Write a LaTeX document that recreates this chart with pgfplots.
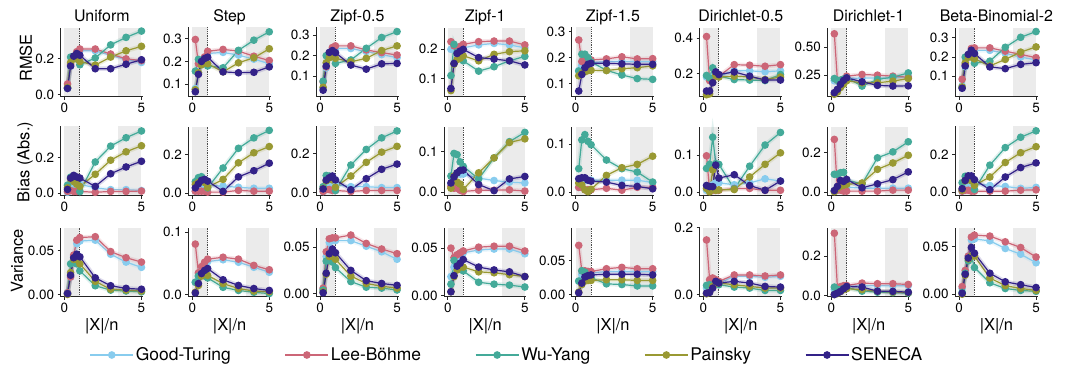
\documentclass[border=0pt]{standalone}
\usepackage{fontspec}
\setmainfont{TeX Gyre Heros}
\usepackage{pgfplots}
\usepackage{pgfplotstable}
\pgfplotsset{compat=1.18}

\definecolor{gtc}{HTML}{88CCEE}
\definecolor{lbc}{HTML}{CC6677}
\definecolor{wyc}{HTML}{44AA99}
\definecolor{pac}{HTML}{999933}
\definecolor{sec}{HTML}{332288}

% ---------- RMSE ----------
\pgfplotstableread{
x    gt     lb     wy     pa     se
0.2  0.040  0.060  0.036  0.040  0.035
0.4  0.160  0.170  0.210  0.180  0.160
0.6  0.210  0.210  0.210  0.200  0.215
0.8  0.235  0.240  0.200  0.200  0.230
1.0  0.245  0.255  0.167  0.185  0.220
2    0.245  0.255  0.205  0.165  0.145
3    0.220  0.227  0.278  0.210  0.145
4    0.195  0.200  0.320  0.245  0.170
5    0.180  0.190  0.355  0.270  0.195
}\tRa
\pgfplotstableread{
x    gt     lb     wy     pa     se
0.2  0.080  0.297  0.157  0.075  0.066
0.4  0.150  0.190  0.209  0.150  0.143
0.6  0.190  0.200  0.205  0.185  0.200
0.8  0.215  0.220  0.200  0.195  0.213
1.0  0.235  0.245  0.180  0.190  0.219
2    0.240  0.253  0.172  0.154  0.154
3    0.228  0.246  0.249  0.194  0.150
4    0.210  0.223  0.294  0.216  0.152
5    0.190  0.204  0.331  0.256  0.176
}\tRb
\pgfplotstableread{
x    gt     lb     wy     pa     se
0.2  0.040  0.072  0.075  0.045  0.031
0.4  0.140  0.145  0.200  0.165  0.149
0.6  0.200  0.210  0.210  0.190  0.216
0.8  0.225  0.240  0.220  0.200  0.225
1.0  0.235  0.248  0.162  0.187  0.215
2    0.235  0.248  0.179  0.170  0.154
3    0.220  0.228  0.236  0.187  0.134
4    0.205  0.215  0.289  0.225  0.160
5    0.190  0.203  0.318  0.248  0.162
}\tRc
\pgfplotstableread{
x    gt     lb     wy     pa     se
0.2  0.200  0.226  0.111  0.060  0.067
0.4  0.200  0.212  0.217  0.150  0.152
0.6  0.200  0.205  0.190  0.165  0.186
0.8  0.203  0.210  0.170  0.170  0.194
1.0  0.205  0.217  0.161  0.178  0.200
2    0.215  0.226  0.126  0.161  0.172
3    0.220  0.228  0.141  0.183  0.167
4    0.215  0.228  0.161  0.192  0.161
5    0.205  0.215  0.176  0.195  0.147
}\tRd
\pgfplotstableread{
x    gt     lb     wy     pa     se
0.2  0.150  0.268  0.148  0.130  0.071
0.4  0.170  0.185  0.213  0.140  0.135
0.6  0.175  0.190  0.213  0.145  0.161
0.8  0.178  0.190  0.200  0.150  0.174
1.0  0.180  0.191  0.183  0.151  0.178
2    0.185  0.195  0.151  0.150  0.178
3    0.185  0.203  0.133  0.157  0.176
4    0.185  0.195  0.119  0.161  0.174
5    0.185  0.196  0.116  0.168  0.174
}\tRe
\pgfplotstableread{
x    gt     lb     wy     pa     se
0.2  0.180  0.409  0.189  0.080  0.101
0.4  0.170  0.160  0.175  0.085  0.101
0.6  0.180  0.170  0.232  0.150  0.148
0.8  0.185  0.190  0.200  0.190  0.209
1.0  0.185  0.185  0.185  0.180  0.194
2    0.215  0.250  0.166  0.185  0.209
3    0.215  0.247  0.163  0.180  0.185
4    0.210  0.241  0.160  0.166  0.163
5    0.215  0.250  0.194  0.180  0.163
}\tRf
\pgfplotstableread{
x    gt     lb     wy     pa     se
0.2  0.200  0.618  0.220  0.080  0.094
0.4  0.195  0.203  0.205  0.100  0.124
0.6  0.200  0.205  0.205  0.140  0.168
0.8  0.210  0.215  0.215  0.170  0.203
1.0  0.220  0.241  0.226  0.200  0.226
2    0.225  0.256  0.153  0.182  0.191
3    0.225  0.250  0.212  0.182  0.159
4    0.225  0.241  0.232  0.197  0.153
5    0.235  0.232  0.270  0.220  0.155
}\tRg
\pgfplotstableread{
x    gt     lb     wy     pa     se
0.2  0.050  0.085  0.040  0.045  0.038
0.4  0.150  0.160  0.200  0.170  0.154
0.6  0.200  0.210  0.210  0.200  0.214
0.8  0.230  0.245  0.220  0.200  0.236
1.0  0.235  0.248  0.168  0.191  0.219
2    0.235  0.248  0.179  0.154  0.149
3    0.220  0.231  0.251  0.188  0.140
4    0.200  0.214  0.303  0.226  0.162
5    0.185  0.197  0.333  0.253  0.171
}\tRh

% ---------- Bias (absolute) ----------
\pgfplotstableread{
x    gt     lb     wy     pa     se
0.2  0.005  0.010  0.045  0.030  0.021
0.4  0.035  0.015  0.090  0.081  0.085
0.6  0.045  0.010  0.075  0.065  0.100
0.8  0.050  0.010  0.060  0.050  0.091
1.0  0.050  0.010  0.009  0.038  0.085
2    0.030  0.005  0.175  0.106  0.038
3    0.020  0.010  0.264  0.185  0.109
4    0.020  0.010  0.311  0.232  0.147
5    0.015  0.012  0.349  0.266  0.179
}\tBa
\pgfplotstableread{
x    gt     lb     wy     pa     se
0.2  0.010  0.010  0.059  0.045  0.027
0.4  0.030  0.010  0.080  0.055  0.048
0.6  0.040  0.010  0.085  0.065  0.066
0.8  0.045  0.010  0.070  0.055  0.071
1.0  0.040  0.005  0.027  0.030  0.062
2    0.036  0.005  0.130  0.071  0.009
3    0.030  0.014  0.232  0.157  0.084
4    0.025  0.010  0.286  0.209  0.116
5    0.025  0.010  0.325  0.241  0.155
}\tBb
\pgfplotstableread{
x    gt     lb     wy     pa     se
0.2  0.005  0.005  0.030  0.020  0.018
0.4  0.025  0.015  0.088  0.060  0.064
0.6  0.035  0.015  0.085  0.070  0.076
0.8  0.040  0.010  0.075  0.065  0.085
1.0  0.040  0.010  0.010  0.027  0.065
2    0.030  0.005  0.142  0.085  0.014
3    0.030  0.010  0.223  0.156  0.071
4    0.025  0.010  0.283  0.209  0.120
5    0.025  0.010  0.319  0.239  0.147
}\tBc
\pgfplotstableread{
x    gt     lb     wy     pa     se
0.2  0.020  0.015  0.040  0.010  0.023
0.4  0.040  0.010  0.096  0.040  0.038
0.6  0.045  0.010  0.093  0.025  0.048
0.8  0.045  0.005  0.075  0.020  0.054
1.0  0.045  0.002  0.064  0.007  0.055
2    0.035  0.005  0.033  0.048  0.019
3    0.029  0.005  0.085  0.085  0.004
4    0.025  0.006  0.125  0.123  0.033
5    0.023  0.003  0.148  0.132  0.039
}\tBd
\pgfplotstableread{
x    gt     lb     wy     pa     se
0.2  0.010  0.010  0.049  0.019  0.028
0.4  0.020  0.010  0.109  0.015  0.030
0.6  0.025  0.005  0.120  0.005  0.030
0.8  0.025  0.005  0.106  0.001  0.025
1.0  0.025  0.005  0.099  0.006  0.023
2    0.025  0.008  0.067  0.035  0.021
3    0.025  0.004  0.049  0.051  0.014
4    0.025  0.010  0.042  0.058  0.012
5    0.020  0.010  0.021  0.075  0.007
}\tBe
\pgfplotstableread{
x    gt     lb     wy     pa     se
0.2  0.005  0.098  0.064  0.010  0.018
0.4  0.010  0.005  0.075  0.001  0.015
0.6  0.020  0.005  0.148  0.060  0.015
0.8  0.025  0.005  0.077  0.005  0.073
1.0  0.025  0.005  0.075  0.006  0.038
2    0.020  0.010  0.009  0.007  0.047
3    0.025  0.010  0.070  0.041  0.018
4    0.036  0.005  0.127  0.075  0.005
5    0.030  0.005  0.161  0.106  0.030
}\tBf
\pgfplotstableread{
x    gt     lb     wy     pa     se
0.2  0.005  0.266  0.090  0.002  0.008
0.4  0.010  0.010  0.090  0.020  0.029
0.6  0.020  0.010  0.098  0.030  0.059
0.8  0.025  0.005  0.100  0.035  0.054
1.0  0.025  0.005  0.060  0.039  0.064
2    0.020  0.005  0.042  0.046  0.022
3    0.020  0.005  0.173  0.115  0.042
4    0.020  0.010  0.203  0.147  0.063
5    0.020  0.010  0.254  0.186  0.102
}\tBg
\pgfplotstableread{
x    gt     lb     wy     pa     se
0.2  0.005  0.005  0.050  0.010  0.018
0.4  0.030  0.010  0.084  0.060  0.062
0.6  0.040  0.010  0.085  0.070  0.086
0.8  0.045  0.005  0.070  0.060  0.086
1.0  0.045  0.005  0.014  0.036  0.066
2    0.035  0.005  0.143  0.080  0.013
3    0.030  0.005  0.236  0.157  0.080
4    0.020  0.010  0.291  0.209  0.130
5    0.025  0.012  0.325  0.241  0.155
}\tBh

% ---------- Variance ----------
\pgfplotstableread{
x    gt     lb     wy     pa     se
0.2  0.002  0.002  0.001  0.000  0.001
0.4  0.020  0.020  0.035  0.025  0.022
0.6  0.043  0.045  0.038  0.040  0.042
0.8  0.058  0.062  0.035  0.040  0.046
1.0  0.061  0.065  0.027  0.035  0.043
2    0.062  0.066  0.010  0.015  0.019
3    0.046  0.049  0.005  0.006  0.010
4    0.037  0.042  0.004  0.005  0.007
5    0.031  0.037  0.003  0.004  0.006
}\tVa
\pgfplotstableread{
x    gt     lb     wy     pa     se
0.2  0.020  0.081  0.020  0.004  0.003
0.4  0.030  0.035  0.030  0.015  0.018
0.6  0.040  0.045  0.033  0.030  0.034
0.8  0.050  0.052  0.030  0.034  0.039
1.0  0.053  0.057  0.027  0.031  0.042
2    0.056  0.060  0.012  0.018  0.024
3    0.052  0.057  0.007  0.010  0.015
4    0.044  0.047  0.004  0.006  0.010
5    0.036  0.040  0.002  0.005  0.007
}\tVb
\pgfplotstableread{
x    gt     lb     wy     pa     se
0.2  0.005  0.006  0.004  0.002  0.001
0.4  0.040  0.045  0.035  0.021  0.022
0.6  0.055  0.059  0.036  0.040  0.043
0.8  0.057  0.060  0.034  0.040  0.048
1.0  0.057  0.060  0.028  0.037  0.044
2    0.057  0.063  0.013  0.019  0.025
3    0.051  0.054  0.007  0.011  0.014
4    0.045  0.048  0.006  0.008  0.011
5    0.037  0.043  0.004  0.006  0.009
}\tVc
\pgfplotstableread{
x    gt     lb     wy     pa     se
0.2  0.020  0.050  0.012  0.004  0.004
0.4  0.030  0.040  0.037  0.020  0.021
0.6  0.040  0.043  0.033  0.027  0.031
0.8  0.044  0.045  0.028  0.030  0.034
1.0  0.045  0.047  0.026  0.030  0.038
2    0.048  0.051  0.014  0.025  0.030
3    0.049  0.052  0.012  0.024  0.027
4    0.049  0.052  0.011  0.022  0.025
5    0.044  0.047  0.009  0.020  0.020
}\tVd
\pgfplotstableread{
x    gt     lb     wy     pa     se
0.2  0.020  0.072  0.020  0.004  0.003
0.4  0.030  0.035  0.035  0.015  0.017
0.6  0.031  0.035  0.033  0.020  0.026
0.8  0.032  0.034  0.028  0.021  0.028
1.0  0.032  0.034  0.025  0.021  0.029
2    0.034  0.038  0.016  0.022  0.030
3    0.034  0.040  0.015  0.022  0.030
4    0.034  0.038  0.013  0.021  0.030
5    0.034  0.038  0.013  0.021  0.029
}\tVe
\pgfplotstableread{
x    gt     lb     wy     pa     se
0.2  0.020  0.163  0.028  0.003  0.005
0.4  0.030  0.045  0.030  0.008  0.007
0.6  0.035  0.050  0.025  0.025  0.020
0.8  0.035  0.045  0.035  0.035  0.040
1.0  0.035  0.040  0.030  0.035  0.035
2    0.055  0.059  0.023  0.030  0.040
3    0.055  0.059  0.020  0.025  0.035
4    0.052  0.056  0.013  0.020  0.025
5    0.055  0.059  0.013  0.020  0.023
}\tVf
\pgfplotstableread{
x    gt     lb     wy     pa     se
0.2  0.030  0.316  0.043  0.005  0.005
0.4  0.030  0.040  0.030  0.010  0.012
0.6  0.035  0.045  0.030  0.020  0.021
0.8  0.040  0.050  0.035  0.030  0.034
1.0  0.045  0.051  0.039  0.035  0.046
2    0.050  0.063  0.022  0.030  0.043
3    0.050  0.060  0.017  0.022  0.022
4    0.050  0.060  0.015  0.018  0.021
5    0.050  0.056  0.012  0.015  0.017
}\tVg
\pgfplotstableread{
x    gt     lb     wy     pa     se
0.2  0.006  0.008  0.002  0.000  0.001
0.4  0.022  0.025  0.022  0.020  0.021
0.6  0.040  0.040  0.035  0.037  0.038
0.8  0.057  0.060  0.040  0.040  0.049
1.0  0.058  0.062  0.028  0.040  0.043
2    0.056  0.061  0.012  0.017  0.022
3    0.048  0.055  0.006  0.009  0.013
4    0.042  0.049  0.004  0.006  0.010
5    0.033  0.039  0.003  0.004  0.007
}\tVh

\pgfplotsset{
  cell/.style={
    scale only axis, width=82.4bp, height=69bp, anchor=south west,
    xmin=-0.25, xmax=5.1, xtick={0,5}, xticklabels={0,5},
    axis x line*=bottom, axis y line*=left, axis on top,
    axis line style={line width=0.9bp, black!85},
    tick style={line width=0.8bp, black!85},
    major tick length=3bp, tick align=outside,
    scaled y ticks=false,
    tick label style={font=\fontsize{13.5}{14}\selectfont},
    /pgf/number format/assume math mode=true,
    clip=false,
  },
  est/.style={color=#1, line width=1.2bp, mark=*, mark size=3.2bp,
    mark options={solid, fill=#1, draw=#1}},
  halo/.style={color=#1, line width=4.5bp, opacity=0.16, no marks, forget plot},
}
\tikzset{
  region/.style={fill=black!8, draw=none},
  cut/.style={black!70, line width=0.8bp, densely dotted},
}

% one series: soft spread band, then the line with its markers
\newcommand{\series}[3]{%
  \addplot[halo=#2] table[x=x, y=#1] {#3};
  \addplot[est=#2] table[x=x, y=#1] {#3};}

% one small panel: column, bottom edge, table, ymin, ymax, yticks, ytick labels
\newcommand{\panel}[7]{%
\begin{axis}[cell, at={({60.6bp+127.8bp*#1},{#2})},
  ymin=#4, ymax=#5, ytick={#6}, yticklabels={#7}]
  \fill[region] (axis cs:0,#4) rectangle (axis cs:1,#5);
  \fill[region] (axis cs:3.5,#4) rectangle (axis cs:5,#5);
  \draw[cut] (axis cs:1,#4) -- (axis cs:1,#5);
  \series{gt}{gtc}{#3}
  \series{lb}{lbc}{#3}
  \series{wy}{wyc}{#3}
  \series{pa}{pac}{#3}
  \series{se}{sec}{#3}
\end{axis}}

\begin{document}
\begin{tikzpicture}
\useasboundingbox (0,0) rectangle (1065bp,-370bp);

% RMSE row
\panel{0}{-96.5bp}{\tRa}{-0.01}{0.375}{0,0.2}{0.0,0.2}
\panel{1}{-96.5bp}{\tRb}{0.045}{0.35}{0.1,0.2,0.3}{0.1,0.2,0.3}
\panel{2}{-96.5bp}{\tRc}{0.0}{0.338}{0.1,0.2,0.3}{0.1,0.2,0.3}
\panel{3}{-96.5bp}{\tRd}{0.04}{0.274}{0.1,0.2}{0.1,0.2}
\panel{4}{-96.5bp}{\tRe}{0.05}{0.316}{0.1,0.2,0.3}{0.1,0.2,0.3}
\panel{5}{-96.5bp}{\tRf}{0.07}{0.46}{0.2,0.4}{0.2,0.4}
\panel{6}{-96.5bp}{\tRg}{0.06}{0.674}{0.25,0.5}{0.25,0.50}
\panel{7}{-96.5bp}{\tRh}{-0.005}{0.354}{0.1,0.2,0.3}{0.1,0.2,0.3}

% Bias row
\panel{0}{-195.5bp}{\tBa}{-0.013}{0.374}{0,0.2}{0.0,0.2}
\panel{1}{-195.5bp}{\tBb}{-0.0125}{0.345}{0,0.2}{0.0,0.2}
\panel{2}{-195.5bp}{\tBc}{-0.016}{0.342}{0,0.2}{0.0,0.2}
\panel{3}{-195.5bp}{\tBd}{-0.008}{0.1625}{0,0.1}{0.0,0.1}
\panel{4}{-195.5bp}{\tBe}{-0.007}{0.137}{0,0.1}{0.0,0.1}
\panel{5}{-195.5bp}{\tBf}{-0.009}{0.177}{0,0.1}{0.0,0.1}
\panel{6}{-195.5bp}{\tBg}{-0.017}{0.331}{0,0.2}{0.0,0.2}
\panel{7}{-195.5bp}{\tBh}{-0.018}{0.348}{0,0.2}{0.0,0.2}

% Variance row
\panel{0}{-296.5bp}{\tVa}{-0.0023}{0.0765}{0,0.05}{0.00,0.05}
\panel{1}{-296.5bp}{\tVb}{-0.0027}{0.1075}{0,0.1}{0.0,0.1}
\panel{2}{-296.5bp}{\tVc}{-0.003}{0.0711}{0,0.05}{0.00,0.05}
\panel{3}{-296.5bp}{\tVd}{-0.001}{0.0717}{0,0.05}{0.00,0.05}
\panel{4}{-296.5bp}{\tVe}{-0.0024}{0.098}{0,0.05}{0.00,0.05}
\panel{5}{-296.5bp}{\tVf}{-0.005}{0.2}{0,0.2}{0.0,0.2}
\panel{6}{-296.5bp}{\tVg}{-0.005}{0.345}{0,0.2}{0.0,0.2}
\panel{7}{-296.5bp}{\tVh}{-0.0024}{0.07}{0,0.05}{0.00,0.05}

% column titles and x labels
\foreach \name [count=\i from 0] in {Uniform,Step,Zipf-0.5,Zipf-1,Zipf-1.5,Dirichlet-0.5,Dirichlet-1,Beta-Binomial-2}{
  \node[anchor=base, inner sep=0pt, font=\fontsize{16}{18}\selectfont]
    at ({60.6bp+127.8bp*\i+41.2bp},-21.7bp) {\name};
  \node[anchor=base, inner sep=0pt, font=\fontsize{16.5}{18}\selectfont]
    at ({60.6bp+127.8bp*\i+41.2bp},-330.5bp) {|X|/n};
}

% row labels
\node[rotate=90, inner sep=0pt, font=\fontsize{16.5}{18}\selectfont] at (26bp,-58bp) {RMSE};
\node[rotate=90, inner sep=0pt, font=\fontsize{16.5}{18}\selectfont] at (25bp,-162bp) {Bias (Abs.)};
\node[rotate=90, inner sep=0pt, font=\fontsize{16.5}{18}\selectfont] at (17bp,-261bp) {Variance};

% shared legend
\begin{axis}[hide axis, scale only axis, width=10bp, height=10bp,
  anchor=center, at={(507bp,-355bp)},
  xmin=0, xmax=1, ymin=0, ymax=1,
  legend columns=5,
  legend style={draw=none, fill=none, at={(0.5,0.5)}, anchor=center,
    font=\fontsize{17.5}{19}\selectfont,
    /tikz/every even column/.append style={column sep=52bp}},
  legend image code/.code={%
    \draw[mark repeat=2, mark phase=2, #1] plot coordinates {(0bp,0bp) (21.5bp,0bp) (43bp,0bp)};},
]
\addlegendimage{est=gtc}\addlegendentry{Good-Turing}
\addlegendimage{est=lbc}\addlegendentry{Lee-Böhme}
\addlegendimage{est=wyc}\addlegendentry{Wu-Yang}
\addlegendimage{est=pac}\addlegendentry{Painsky}
\addlegendimage{est=sec}\addlegendentry{SENECA}
\end{axis}
\end{tikzpicture}
\end{document}
